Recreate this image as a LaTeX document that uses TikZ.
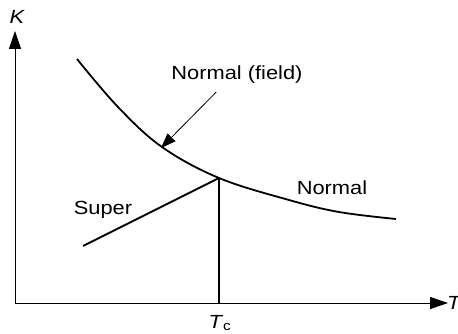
\documentclass[tikz,border=0pt]{standalone}
\usepackage{fontspec}
\setmainfont{Liberation Sans}[FakeStretch=1.15]
\usepackage{tikz}
\usetikzlibrary{arrows.meta, positioning}

\begin{document}
\begin{tikzpicture}[x=1pt,y=-1pt,
    axis/.style={line width=0.9pt, -{Triangle[length=18pt,width=12pt]}},
    curve/.style={line width=1.8pt},
    pointer/.style={line width=0.8pt, -{Triangle[length=15pt,width=11pt]}},
    lbl/.style={font=\fontsize{19}{22}\selectfont, inner sep=0pt}]
        \useasboundingbox (0,0) rectangle (458,334);
        % Axes
        \coordinate (O) at (15,303);
        \coordinate (Ktop) at (15,31);
        \coordinate (Tend) at (448,303);
        \draw[axis] (O) -- (Ktop);
        \draw[axis] (O) -- (Tend);
        \node[lbl, font=\fontsize{19}{22}\selectfont\itshape] (K) at (17,17) {K};
        \node[lbl, font=\fontsize{19}{22}\selectfont\itshape, anchor=west] (T) at (447,303) {T};
        % Critical point
        \coordinate (C) at (219,178);
        \coordinate (Cfoot) at (219,303);
        \coordinate (S) at (83,246);
        \draw[curve] (C) -- (Cfoot);
        \draw[curve] (S) -- (C);
        % Normal curve
        \draw[curve] plot[smooth, tension=0.6] coordinates {(77,59) (118,107) (162,147) (219,178) (289,200) (339,212) (396,219)};
        % Labels
        \node[lbl] (field) at (237,75) {Normal (field)};
        \node[lbl] (super) at (103,210) {Super};
        \node[lbl] (normal) at (332,188) {Normal};
        \node[lbl] (Tc) at (220,323) {\textit{T}\textsubscript{c}};
        \coordinate (tip) at (161,148);
        \draw[pointer] (field.south west) ++(45,8) coordinate (tail) (tail) -- (tip);
    \end{tikzpicture}
\end{document}
